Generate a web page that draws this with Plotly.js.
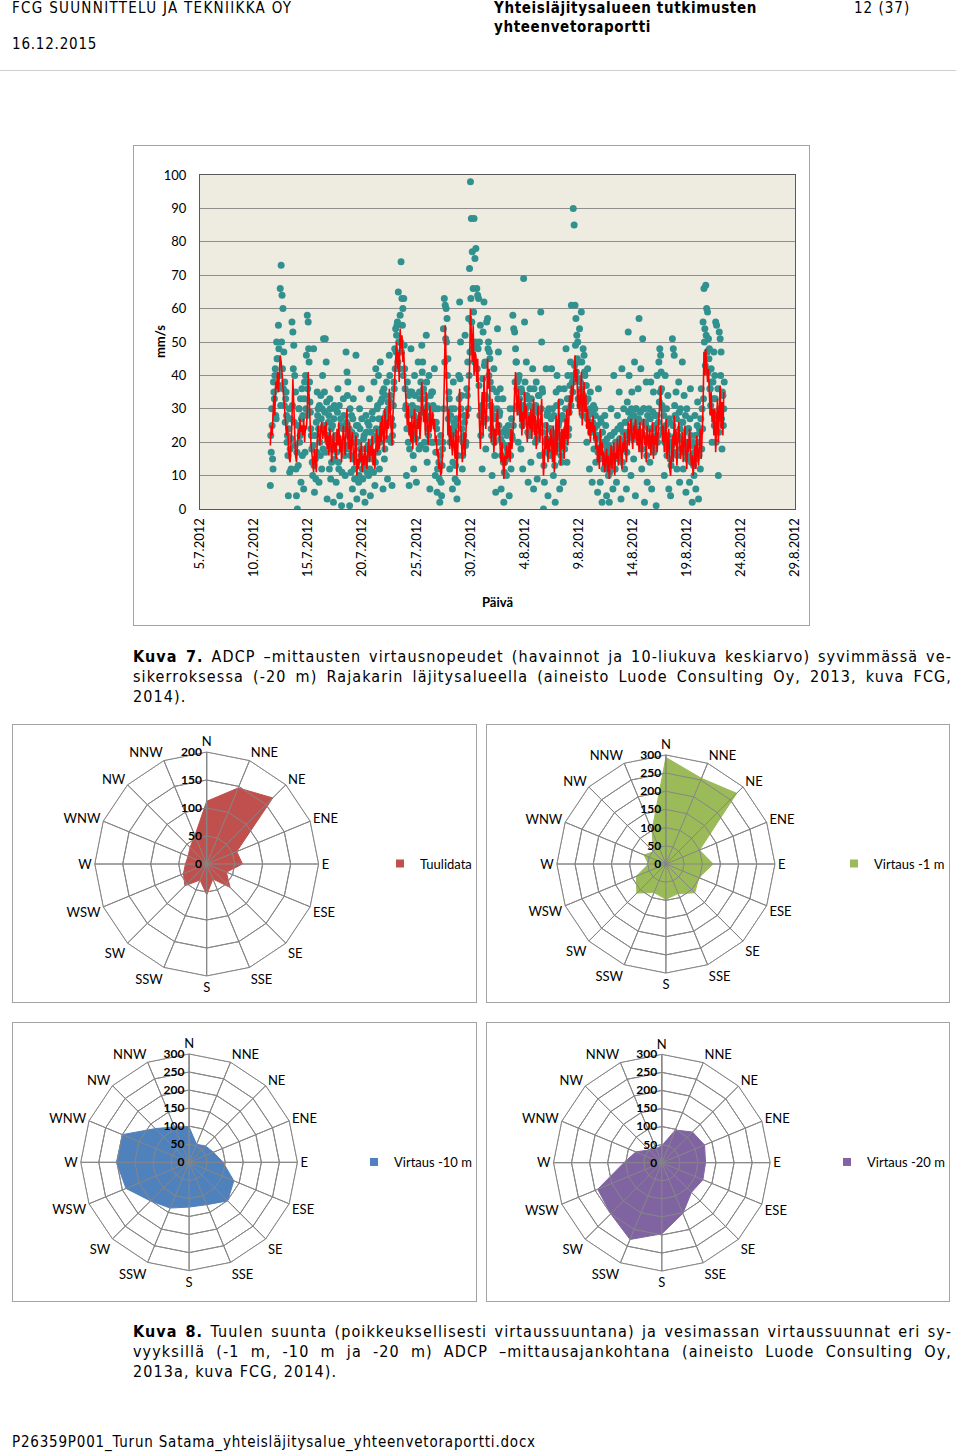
<!DOCTYPE html>
<html>
<head>
<meta charset="utf-8">
<script src="https://cdn.plot.ly/plotly-3.0.1.min.js"></script>
<style>
  html, body { margin: 0; padding: 0; background: #fff; }
  body { width: 960px; height: 1452px; position: relative; overflow: hidden; }
  .narrow { font-family: "Liberation Sans Narrow", "Arial Narrow", "DejaVu Sans Condensed", sans-serif; color: #000; }
  .abs { position: absolute; white-space: nowrap; }
  .hdr { font-size: 15px; line-height: 18px; }
  .cap { font-size: 16px; line-height: 20px; width: 819px; left: 133px; letter-spacing: 1.1px; }
  .just { text-align: justify; text-align-last: justify; }
  .box { position: absolute; border: 1px solid #A3A3A3; box-sizing: border-box; pointer-events: none; }
  .plot { position: absolute; }
</style>
</head>
<body>
<div class="abs narrow hdr" style="left:12px; top:-1px; letter-spacing:1.3px;">FCG SUUNNITTELU JA TEKNIIKKA OY</div>
<div class="abs narrow hdr" style="left:12px; top:35px; letter-spacing:0.8px;">16.12.2015</div>
<div class="abs narrow hdr" style="left:494px; top:-1px; font-weight:bold; letter-spacing:0.65px;">Yhteisläjitysalueen tutkimusten</div>
<div class="abs narrow hdr" style="left:494px; top:18px; font-weight:bold; letter-spacing:0.65px;">yhteenvetoraportti</div>
<div class="abs narrow hdr" style="left:854px; top:-1px; letter-spacing:1px;">12 (37)</div>
<div style="position:absolute; left:0; top:70px; width:956px; height:1px; background:#CFCFCF;"></div>

<div id="speed" class="plot" style="left:133px; top:145px; width:677px; height:481px;"></div>
<div class="box" style="left:133px; top:145px; width:677px; height:481px;"></div>

<div class="abs narrow cap just" style="top:647px;"><b>Kuva 7.</b> ADCP –mittausten virtausnopeudet (havainnot ja 10-liukuva keskiarvo) syvimmässä ve-</div>
<div class="abs narrow cap just" style="top:667px;">sikerroksessa (-20 m) Rajakarin läjitysalueella (aineisto Luode Consulting Oy, 2013, kuva FCG,</div>
<div class="abs narrow cap" style="top:687px; width:auto;">2014).</div>

<div id="rose1" class="plot" style="left:12px; top:724px; width:465px; height:279px;"></div>
<div class="box" style="left:12px; top:724px; width:465px; height:279px;"></div>
<div id="rose2" class="plot" style="left:486px; top:724px; width:464px; height:279px;"></div>
<div class="box" style="left:486px; top:724px; width:464px; height:279px;"></div>
<div id="rose3" class="plot" style="left:12px; top:1022px; width:465px; height:280px;"></div>
<div class="box" style="left:12px; top:1022px; width:465px; height:280px;"></div>
<div id="rose4" class="plot" style="left:486px; top:1022px; width:464px; height:280px;"></div>
<div class="box" style="left:486px; top:1022px; width:464px; height:280px;"></div>

<div class="abs narrow cap just" style="top:1322px;"><b>Kuva 8.</b> Tuulen suunta (poikkeuksellisesti virtaussuuntana) ja vesimassan virtaussuunnat eri sy-</div>
<div class="abs narrow cap just" style="top:1342px;">vyyksillä (-1 m, -10 m ja -20 m) ADCP –mittausajankohtana (aineisto Luode Consulting Oy,</div>
<div class="abs narrow cap" style="top:1362px; width:auto;">2013a, kuva FCG, 2014).</div>

<div class="abs narrow hdr" style="left:12px; top:1433px; letter-spacing:0.8px;">P26359P001_Turun Satama_yhteisläjitysalue_yhteenvetoraportti.docx</div>

<script>
// ---------------- Data: ADCP speed time series (mm/s) ----------------
const obsStartUTC = [2012, 6, 11, 12];   // 11.7.2012 12:00
const obsStepHours = 2;                  // each array below is sampled every 2 h; the "odd" one is shifted by 1 h
// observations at even hours
const speedObsEven = [
  7,17,25,12,35,40,28,50,45,55,37,66,
  73,64,60,47,38,33,28,22,4,30,18,12,
  56,53,49,40,35,4,0,13,30,22,8,36,
  28,6,38,40,46,58,56,44,32,24,18,10,
  48,5,15,26,35,30,8,20,34,12,40,51,
  35,51,44,3,20,28,33,9,14,25,2,31,
  30,8,22,36,12,4,27,1,18,33,24,10,
  47,41,38,22,1,16,28,6,33,12,20,46,
  3,25,8,30,18,36,12,5,22,2,28,15,
  26,10,33,4,20,29,15,38,7,42,22,31,
  40,12,44,24,33,6,36,18,28,38,9,30,
  46,32,20,7,25,38,48,54,52,56,65,50,
  58,74,63,60,63,42,30,10,38,20,7,35,
  48,35,22,12,40,30,8,26,44,18,33,38,
  49,44,36,20,30,52,14,24,40,6,28,35,
  35,20,42,10,26,5,30,14,2,22,4,18,
  54,63,61,60,57,45,35,12,28,22,6,38,
  30,9,25,3,16,40,62,50,34,12,20,28,
  52,20,36,44,57,72,98,87,77,66,87,75,
  78,66,64,63,50,55,30,12,53,62,44,18,
  56,57,50,47,38,24,10,30,42,16,5,35,
  54,47,28,36,6,20,33,2,14,24,10,18,
  25,4,30,12,22,58,54,53,48,44,38,20,
  40,30,18,35,12,69,56,26,44,33,8,22,
  36,14,28,42,6,30,20,38,9,25,34,16,
  59,50,35,0,8,20,42,28,4,30,16,24,
  42,30,10,22,2,35,40,18,26,6,32,14,
  28,8,36,20,48,14,40,24,33,44,61,38,
  90,85,61,57,52,50,44,54,38,59,30,48,
  46,40,32,20,42,28,12,35,24,8,30,18,
  30,14,22,5,36,18,8,26,2,20,12,28,
  25,4,18,10,2,22,30,14,6,40,12,20,
  8,28,16,35,24,3,42,18,30,12,26,6,
  32,53,40,22,10,35,28,15,44,4,30,24,
  36,57,22,42,12,51,30,2,26,38,8,20,
  30,14,38,6,24,35,18,28,1,40,22,44,
  48,46,36,24,30,10,40,20,16,34,6,26,
  4,20,51,48,46,28,35,12,22,38,8,30,
  26,44,12,34,20,5,30,16,24,8,36,14,
  2,20,10,28,6,16,32,3,24,12,36,30,
  56,66,54,67,60,59,51,48,36,42,20,38,
  47,40,56,55,28,10,53,51,47,18,34,30
];
// observations at odd hours
const speedObsOdd = [
  22,30,15,38,33,42,27,45,36,48,40,31,
  50,42,36,31,26,35,20,16,24,11,27,21,
  31,42,26,19,12,17,25,30,20,33,27,16,
  24,33,17,30,28,36,48,38,29,22,14,19,
  13,22,9,17,28,24,31,16,27,30,18,25,
  29,17,32,22,26,12,30,24,18,21,27,15,
  22,17,29,14,31,20,25,11,24,28,16,19,
  26,34,18,24,30,11,23,27,15,9,22,25,
  14,20,10,24,16,27,9,21,13,18,23,11,
  19,25,12,23,16,27,11,21,14,24,30,17,
  27,20,32,23,35,26,15,34,29,21,32,26,
  40,34,27,22,31,36,42,47,55,44,50,42,
  50,47,55,40,49,36,31,24,28,34,18,29,
  23,31,16,28,34,21,25,30,27,35,19,29,
  41,35,29,33,18,38,31,22,27,34,20,30,
  31,26,30,17,24,12,20,9,16,8,13,20,
  30,44,51,50,40,27,33,20,30,24,14,26,
  23,13,27,8,21,33,39,30,24,16,22,26,
  19,28,34,30,40,47,63,56,48,59,44,50,
  49,42,48,37,28,22,31,39,26,43,34,27,
  33,48,40,45,31,22,36,28,20,27,23,30,
  33,25,29,21,16,23,14,11,19,15,22,17,
  19,23,16,27,21,25,30,38,44,36,31,39,
  33,29,36,25,31,27,38,30,34,23,28,31,
  27,33,24,30,36,25,31,21,29,34,26,23,
  30,36,23,13,17,25,21,29,17,24,20,27,
  23,17,28,13,21,31,19,25,36,22,16,27,
  21,27,18,30,24,33,22,29,37,31,40,35,
  38,43,49,41,45,33,39,31,36,44,28,34,
  41,32,37,27,33,25,30,23,29,26,31,24,
  28,21,25,17,22,15,27,19,23,16,20,13,
  17,21,13,19,11,16,22,15,18,23,12,20,
  18,24,15,21,25,19,14,23,20,26,22,17,
  23,29,22,27,30,25,21,28,24,30,26,22,
  27,20,29,23,18,26,30,22,25,16,28,24,
  21,27,19,24,29,17,25,22,28,20,26,32,
  35,41,31,23,28,20,25,30,18,22,27,15,
  13,19,25,17,31,22,27,16,21,29,24,18,
  21,26,17,23,28,19,15,24,20,27,22,16,
  19,13,17,22,15,25,20,16,23,27,18,24,
  33,50,43,52,47,41,45,36,31,38,29,33,
  25,33,20,28,36,23,30,40,27,35,25,38
];
// 10-point moving average, every 2 h
const speedAvg = [
  19,25,22,30,34,28,38,36,41,35,43,46,
  44,40,38,33,30,27,22,25,18,15,14,20,
  26,39,30,22,16,14,19,24,21,27,23,25,
  22,27,20,25,24,29,41,33,26,20,17,14,
  11,18,13,11,20,25,22,19,24,26,21,23,
  25,20,26,18,22,16,24,21,14,19,23,17,
  20,15,24,19,26,17,22,14,18,25,21,16,
  24,30,21,18,26,14,20,23,17,13,19,22,
  10,15,12,18,14,20,11,16,13,19,15,12,
  17,21,14,19,16,22,13,18,12,20,24,17,
  22,18,26,20,28,23,17,30,25,21,27,24,
  36,30,25,19,28,34,38,45,50,42,47,38,
  54,48,52,44,47,40,35,28,25,31,22,26,
  20,28,18,25,30,22,19,27,24,29,21,26,
  38,32,26,30,22,35,28,19,25,31,23,27,
  29,24,27,20,22,16,18,12,14,10,11,17,
  26,38,55,47,34,22,30,18,25,20,16,23,
  20,15,24,10,18,30,36,26,21,14,19,23,
  16,24,30,27,35,42,60,50,44,55,40,47,
  46,38,45,33,25,18,28,35,22,40,30,24,
  30,45,36,42,28,20,33,25,17,24,19,27,
  30,22,26,18,14,20,12,9,16,13,19,15,
  16,20,14,24,18,22,27,35,41,33,28,36,
  30,26,33,22,29,24,35,27,31,20,25,28,
  24,30,21,27,33,22,28,18,26,31,23,20,
  27,33,20,10,15,22,18,26,14,21,17,24,
  20,14,25,11,18,28,16,22,33,19,13,24,
  18,24,15,27,21,30,19,26,34,28,37,32,
  35,40,46,38,42,30,36,28,33,41,25,31,
  38,29,34,24,30,22,27,20,26,23,28,21,
  25,18,22,14,19,12,24,16,20,13,17,11,
  14,18,11,16,9,13,19,12,15,20,10,17,
  15,21,13,18,22,16,12,20,17,23,19,14,
  20,26,19,24,27,22,18,25,21,27,23,19,
  24,17,26,20,15,23,27,19,22,14,25,21,
  18,24,16,21,26,15,22,19,25,17,23,29,
  32,37,28,20,25,17,22,27,15,19,24,12,
  10,16,22,14,28,19,24,13,18,26,21,15,
  18,23,14,20,25,16,12,21,17,24,19,13,
  16,10,14,19,12,22,17,13,20,24,15,21,
  30,47,40,48,44,38,42,33,28,35,26,30,
  22,30,17,25,33,20,27,37,24,32,22,35
];
const dateTickVals = ['2012-07-05','2012-07-10','2012-07-15','2012-07-20','2012-07-25','2012-07-30',
                      '2012-08-04','2012-08-09','2012-08-14','2012-08-19','2012-08-24','2012-08-29'];
const dateTickText = ['5.7.2012','10.7.2012','15.7.2012','20.7.2012','25.7.2012','30.7.2012',
                      '4.8.2012','9.8.2012','14.8.2012','19.8.2012','24.8.2012','29.8.2012'];
const speedTickVals = [0,10,20,30,40,50,60,70,80,90,100];

// ---------------- Data: direction roses ----------------
const directions = ['N','NNE','NE','ENE','E','ESE','SE','SSE','S','SSW','SW','WSW','W','WNW','NW','NNW'];
const windCounts   = [112,147,167,58,64,38,59,29,55,31,55,45,38,36,42,55];
const flow1mCounts = [293,255,275,100,130,98,112,88,97,85,113,88,48,65,48,100];
const flow10mCounts= [98,54,64,73,94,134,151,127,124,137,151,189,201,200,132,106];
const flow20mCounts= [47,98,120,128,121,123,116,152,197,230,200,192,105,78,50,42];
const windTicks = [0,50,100,150,200];
const flowTicks = [0,50,100,150,200,250,300];

// ---------------- Speed chart ----------------
const FONT = 'Lato, "Open Sans", sans-serif';
const t0 = Date.UTC(obsStartUTC[0], obsStartUTC[1], obsStartUTC[2], obsStartUTC[3]);
const stamp = ms => new Date(ms).toISOString().slice(0, 19).replace('T', ' ');
const timesEven = speedObsEven.map((_, i) => stamp(t0 + i * obsStepHours * 3600e3));
const timesOdd  = speedObsOdd.map((_, i) => stamp(t0 + (i * obsStepHours + 1) * 3600e3));
const obsX = [], obsY = [];
for (let i = 0; i < speedObsEven.length; i++) {
  obsX.push(timesEven[i]); obsY.push(speedObsEven[i]);
  if (i < speedObsOdd.length) { obsX.push(timesOdd[i]); obsY.push(speedObsOdd[i]); }
}

Plotly.newPlot('speed', [
  { type: 'scatter', mode: 'markers', x: obsX, y: obsY, name: 'Havainnot',
    marker: { color: '#31918F', size: 7 } },
  { type: 'scatter', mode: 'lines', x: timesEven, y: speedAvg, name: '10-liukuva keskiarvo',
    line: { color: '#FF0000', width: 1.6 } }
], {
  width: 677, height: 481,
  margin: { l: 67, r: 15, t: 30, b: 117 },
  paper_bgcolor: '#FFFFFF', plot_bgcolor: '#EEECE1',
  showlegend: false,
  font: { family: FONT, size: 13, color: '#000' },
  xaxis: {
    type: 'date', range: ['2012-07-05', '2012-08-29'],
    tickmode: 'array', tickvals: dateTickVals, ticktext: dateTickText, tickangle: -90,
    showgrid: false, zeroline: false, showline: true, linecolor: '#5A5A5A', linewidth: 1, mirror: true,
    ticks: '', ticklabelstandoff: 3, tickfont: { family: FONT, size: 13 },
    title: { text: 'Päivä', font: { family: FONT, size: 13, weight: 'bold' }, standoff: 21 }
  },
  yaxis: {
    range: [0, 100], tickmode: 'array', tickvals: speedTickVals,
    showgrid: true, gridcolor: '#8E8E8E', gridwidth: 1, zeroline: false,
    showline: true, linecolor: '#5A5A5A', linewidth: 1, mirror: true, ticks: '',
    ticklabelstandoff: 10, tickfont: { family: FONT, size: 13 }
  },
  annotations: [
    { text: 'mm/s', xref: 'paper', yref: 'paper', x: -0.0672, y: 0.5, xanchor: 'center', yanchor: 'middle',
      textangle: -90, showarrow: false, font: { family: FONT, size: 13, weight: 'bold' } }
  ]
}, { staticPlot: true });

// ---------------- Roses ----------------
function rose(id, values, color, name, rmax, ticks, dom, legendX) {
  const gridCol = '#868686';
  // grid drawn over the filled area (as in the spreadsheet radar chart), from the axis ticks and categories
  const gr = [], gt = [];
  ticks.filter(t => t > 0).forEach(t => {
    directions.forEach(d => { gr.push(t); gt.push(d); });
    gr.push(t); gt.push(directions[0]); gr.push(null); gt.push(null);
  });
  directions.forEach(d => { gr.push(0, rmax, null); gt.push(d, d, null); });
  Plotly.newPlot(id, [
    { type: 'scatterpolar', mode: 'lines', r: values.concat([values[0]]), theta: directions.concat([directions[0]]),
      fill: 'toself', fillcolor: color, line: { color: color, width: 1 }, name: name, showlegend: false },
    { type: 'scatterpolar', mode: 'lines', r: gr, theta: gt, line: { color: gridCol, width: 1 },
      showlegend: false, connectgaps: false, hoverinfo: 'skip' },
    { type: 'scatterpolar', mode: 'markers', r: [null], theta: [null], name: name,
      marker: { symbol: 'square', size: 8, color: color }, showlegend: true }
  ], {
    width: dom.w, height: dom.h,
    margin: { l: 0, r: 0, t: 0, b: 0 },
    paper_bgcolor: '#FFFFFF',
    font: { family: FONT, size: 13, color: '#000' },
    showlegend: true,
    legend: { x: legendX, y: 0.5, xanchor: 'left', yanchor: 'middle', font: { family: FONT, size: 13 },
              bgcolor: 'rgba(0,0,0,0)', tracegroupgap: 0 },
    polar: {
      domain: { x: dom.x, y: dom.y },
      gridshape: 'linear', bgcolor: '#FFFFFF',
      angularaxis: { type: 'category', categoryarray: directions, direction: 'clockwise', rotation: 90,
                     showline: true, linecolor: gridCol, linewidth: 1, showgrid: true, gridcolor: gridCol, gridwidth: 1,
                     ticks: '', tickfont: { family: FONT, size: 13 }, layer: 'above traces' },
      radialaxis: { range: [0, rmax], tickmode: 'array', tickvals: ticks, angle: 90, side: 'counterclockwise',
                    tickangle: 90, showline: true, linecolor: gridCol, showgrid: true, gridcolor: gridCol, gridwidth: 1,
                    ticks: '', tickfont: { family: FONT, size: 12, weight: 'bold' }, layer: 'above traces' }
    }
  }, { staticPlot: true });
}

rose('rose1', windCounts, '#C0504D', 'Tuulidata', 200, windTicks,
     { w: 465, h: 279, x: [0.1778, 0.6596], y: [0.0968, 0.8996] }, 0.7914);
rose('rose2', flow1mCounts, '#9BBB59', 'Virtaus -1 m', 300, flowTicks,
     { w: 464, h: 279, x: [0.1567, 0.6394], y: [0.0968, 0.8996] }, 0.77);
rose('rose3', flow10mCounts, '#4F81BD', 'Virtaus -10 m', 300, flowTicks,
     { w: 465, h: 280, x: [0.1527, 0.6344], y: [0.0989, 0.8989] }, 0.76);
rose('rose4', flow20mCounts, '#8064A2', 'Virtaus -20 m', 300, flowTicks,
     { w: 464, h: 280, x: [0.1502, 0.6330], y: [0.0975, 0.8975] }, 0.76);
</script>
</body>
</html>
